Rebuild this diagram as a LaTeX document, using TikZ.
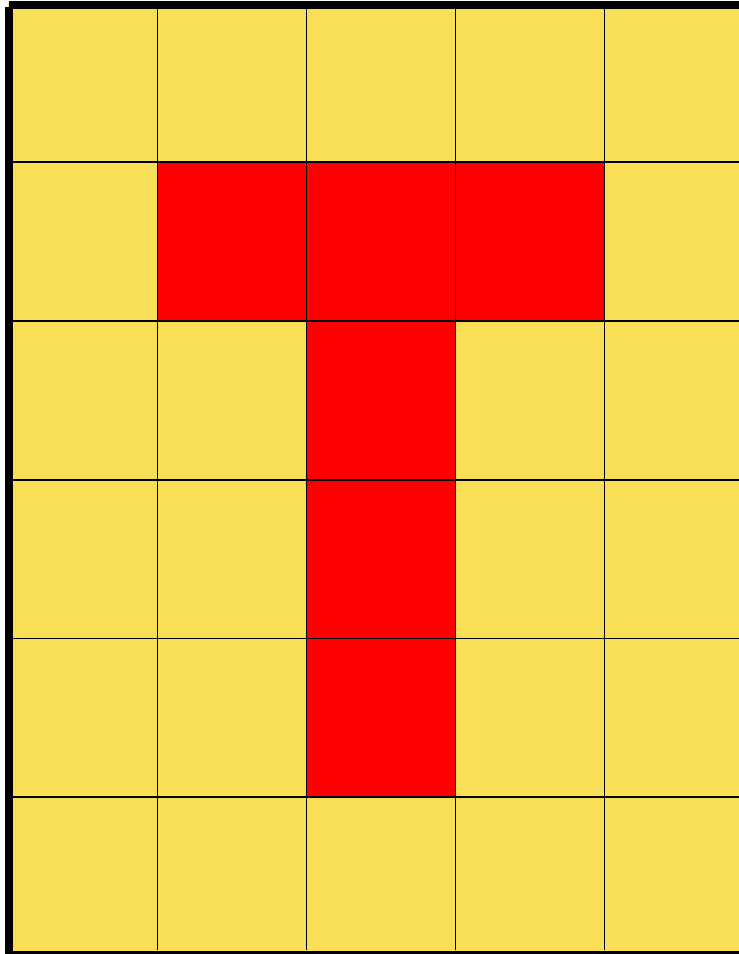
\documentclass[tikz,border=0pt]{standalone}
\definecolor{cellyellow}{HTML}{F9DF58}
\definecolor{cellred}{HTML}{FF0000}
\tikzset{gridline/.style={line width=1.4pt}}
\begin{document}
\begin{tikzpicture}[x=1pt,y=-1pt]
    \useasboundingbox (0,0) rectangle (739,954);
    \coordinate (TL) at (8,3);
    \coordinate (BR) at (739,954);

    % Cells
    \fill[cellyellow] (TL) rectangle (BR);
    \fill[cellred] (157.3,162) rectangle (604.4,321);   % bar of the T
    \fill[cellred] (306.3,321) rectangle (455.2,797);   % stem of the T

    % Grid
    \foreach \x in {157.3,306.3,455.2,604.4}
        \draw[gridline] (\x,8) -- (\x,950);
    \foreach \y in {162,321,480,638.5,797}
        \draw[gridline] (12,\y) -- (739,\y);

    % Border
    \fill (5,7) rectangle (12.5,954);      % left
    \fill (9,1) rectangle (739,8.5);       % top
    \fill (5,950.5) rectangle (739,954);   % bottom

\end{tikzpicture}
\end{document}
